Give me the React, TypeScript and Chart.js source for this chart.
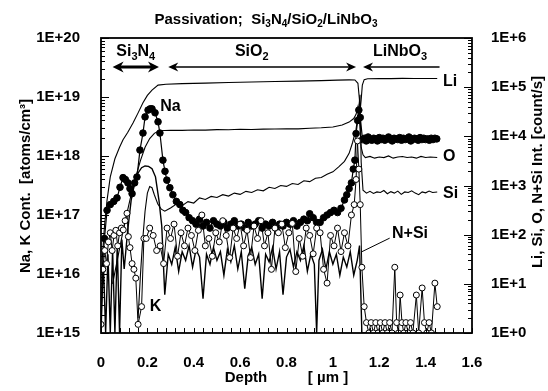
import React, { useEffect, useRef } from 'react';
import { Chart, registerables } from 'chart.js';
Chart.register(...registerables);

// ---------- DATA ----------
// Na concentration (atoms/cm3), left axis, filled circles
const naProfile: [number, number][] = [
  [0.005,1.2e16],[0.015,4e16],[0.026,1.2e17],[0.04,1.5e17],[0.055,1.7e17],[0.069,1.95e17],[0.082,2.95e17],[0.095,4.3e17],
  [0.105,4e17],[0.116,3.5e17],[0.125,2.8e17],[0.134,2.3e17],[0.145,3.5e17],[0.155,4.4e17],[0.168,1.26e18],[0.181,2.45e18],
  [0.19,4.6e18],[0.203,6e18],[0.212,6.3e18],[0.22,6.3e18],[0.233,5.4e18],[0.246,3.8e18],[0.254,2.45e18],[0.267,8.5e17],
  [0.276,5.5e17],[0.284,3.9e17],[0.297,2.9e17],[0.31,2.2e17],[0.325,1.7e17],[0.34,1.5e17],[0.353,1.2e17],[0.365,1.1e17],
  [0.38,9e16],[0.395,8e16],[0.41,7e16],[0.425,8.5e16],[0.44,6.5e16],[0.455,7.5e16],[0.47,6e16],[0.485,8e16],[0.5,7e16],
  [0.515,6.5e16],[0.53,7.5e16],[0.545,6e16],[0.56,7e16],[0.575,8e16],[0.59,6.5e16],[0.605,7e16],[0.62,6e16],[0.635,7.5e16],
  [0.65,6.5e16],[0.665,7e16],[0.68,8e16],[0.695,6e16],[0.71,7e16],[0.725,6.5e16],[0.74,7.5e16],[0.755,6e16],[0.77,7e16],
  [0.785,6.5e16],[0.8,7.5e16],[0.815,7e16],[0.83,8e16],[0.845,6.5e16],[0.86,7.5e16],[0.875,8.5e16],[0.89,8e16],[0.9,1.05e17],
  [0.915,9e16],[0.93,7.5e16],[0.945,7.5e16],[0.96,9e16],[0.975,1e17],[0.99,1.1e17],[1.005,1.2e17],[1.02,1.1e17],[1.035,1.3e17],
  [1.05,1.8e17],[1.06,2.2e17],[1.07,2.8e17],[1.08,3.5e17],[1.088,6e17],[1.095,8.5e17],[1.1,2.4e18],[1.107,4e18],[1.112,6e18],
  [1.118,4.5e18],[1.128,1.9e18],[1.136,2.0e18],[1.144,1.8e18],[1.152,2.1e18],[1.16,1.9e18],[1.168,1.85e18],[1.176,2.0e18],
  [1.184,1.95e18],[1.192,1.8e18],[1.2,2.05e18],[1.208,1.9e18],[1.216,2.0e18],[1.224,1.85e18],[1.232,1.95e18],[1.24,2.1e18],
  [1.248,1.9e18],[1.256,1.8e18],[1.264,2.0e18],[1.272,1.95e18],[1.28,1.9e18],[1.288,2.05e18],[1.296,1.85e18],[1.304,2.0e18],
  [1.312,1.9e18],[1.32,1.95e18],[1.328,2.1e18],[1.336,1.8e18],[1.344,1.9e18],[1.352,2.0e18],[1.36,1.95e18],[1.368,1.85e18],
  [1.376,2.05e18],[1.384,1.9e18],[1.392,2.0e18],[1.4,1.9e18],[1.408,1.95e18],[1.416,1.85e18],[1.424,2.0e18],[1.432,1.9e18],
  [1.44,2.0e18],[1.448,1.95e18]
];

// K concentration (atoms/cm3), left axis, open circles
const kProfile: [number, number][] = [
  [0.0,1.4e15],[0.008,1.2e16],[0.016,2.5e16],[0.024,1.5e16],[0.032,3.5e16],[0.04,5e16],[0.048,2.5e16],[0.056,4.5e16],
  [0.064,5.5e16],[0.072,3e16],[0.08,5e16],[0.088,6e16],[0.096,5.6e16],[0.104,8e16],[0.112,1.07e17],[0.118,4.3e16],
  [0.125,2.8e16],[0.134,1.5e16],[0.142,1.2e16],[0.15,8.5e15],[0.16,1.4e15],[0.175,2.8e15],[0.185,4e16],
  [0.195,4e16],[0.21,6e16],[0.225,4.5e16],[0.24,2.5e16],[0.255,3e16],[0.27,1.5e16],[0.285,6e16],[0.3,4e16],[0.315,7e16],
  [0.33,2e16],[0.345,5e16],[0.36,3e16],[0.375,6e16],[0.39,4.5e16],[0.405,2.5e16],[0.42,5.5e16],[0.435,1e17],[0.45,3e16],
  [0.465,4e16],[0.48,2e16],[0.495,5e16],[0.51,3.5e16],[0.525,8e16],[0.54,4.5e16],[0.555,1.9e16],[0.57,6e16],[0.585,4e16],
  [0.6,7e16],[0.615,3e16],[0.63,5.5e16],[0.645,1.9e16],[0.66,6.5e16],[0.675,4e16],[0.69,8e16],[0.705,3e16],[0.72,5e16],
  [0.735,1.2e16],[0.75,6e16],[0.765,5e16],[0.78,7e16],[0.795,2.8e16],[0.81,5e16],[0.825,7.2e16],[0.84,1.1e16],[0.855,4e16],
  [0.87,2e16],[0.885,6e16],[0.9,4.5e16],[0.915,2.2e16],[0.93,6e16],[0.945,5e16],[0.96,1.2e16],[0.975,7e15],[0.99,4.5e16],
  [1.005,3e16],[1.02,6e16],[1.035,2.4e16],[1.05,5e16],[1.065,3e16],[1.08,1e17],[1.092,1.5e17],[1.1,4e17],[1.106,1.8e18],
  [1.112,6e17],[1.118,1.5e17],[1.125,1.3e16],[1.135,2.8e15],[1.145,1.5e15],[1.155,1.0e15],[1.165,1.5e15],[1.175,1.0e15],
  [1.185,1.5e15],[1.195,1.0e15],[1.205,1.5e15],[1.215,1.0e15],[1.225,1.5e15],[1.235,1.0e15],[1.245,1.5e15],[1.255,1.0e15],
  [1.267,1.3e16],[1.275,1.5e15],[1.283,1.0e15],[1.29,4.4e15],[1.298,1.5e15],[1.306,1.0e15],[1.315,1.5e15],[1.325,1.0e15],
  [1.335,1.5e15],[1.345,1.0e15],[1.36,4.4e15],[1.37,1.0e15],[1.385,5.8e15],[1.395,1.5e15],[1.405,1.0e15],[1.415,1.5e15],
  [1.425,1.0e15],[1.44,7e15],[1.45,2.8e15]
];

// Li intensity (count/s), right axis
const liProfile: [number, number][] = [
  [0.005,30],[0.015,150],[0.026,500],[0.04,1500],[0.06,3500],[0.08,6000],[0.095,8500],[0.115,12000],[0.138,18600],
  [0.16,30000],[0.181,48000],[0.2,68000],[0.22,87000],[0.246,110000],[0.28,115000],[0.35,118000],[0.45,121000],
  [0.55,124000],[0.65,127000],[0.75,130000],[0.85,133000],[0.95,136000],[1.02,139000],[1.07,141000],[1.095,140000],
  [1.108,120000],[1.114,60000],[1.118,35000],[1.122,55000],[1.127,110000],[1.135,142000],[1.15,148000],[1.2,150000],
  [1.25,149000],[1.3,151000],[1.35,150000],[1.4,150000],[1.45,150000]
];

// O intensity (count/s), right axis
const oProfile: [number, number][] = [
  [0.05,10],[0.07,30],[0.09,90],[0.11,250],[0.13,650],[0.15,1500],[0.17,3200],[0.19,6000],[0.21,9000],[0.23,11500],
  [0.25,13000],[0.3,13300],[0.35,13200],[0.4,13500],[0.45,13400],[0.5,13700],[0.55,13600],[0.6,13900],[0.65,13800],
  [0.7,14000],[0.75,14100],[0.8,14300],[0.85,14200],[0.9,14600],[0.95,14900],[1.0,15500],[1.04,17000],[1.07,19500],
  [1.09,23000],[1.1,28000],[1.108,40000],[1.115,20000],[1.122,6000],[1.13,4200],[1.14,3700],[1.16,3900],[1.18,3600],
  [1.2,3800],[1.22,3700],[1.24,4000],[1.26,3600],[1.28,3800],[1.3,3900],[1.32,3700],[1.34,3800],[1.36,3600],[1.38,3900],
  [1.4,3700],[1.42,3800],[1.45,3700]
];

// Si intensity (count/s), right axis
const siProfile: [number, number][] = [
  [0.16,2],[0.17,15],[0.18,80],[0.19,300],[0.2,700],[0.21,950],[0.22,900],[0.23,650],[0.245,420],[0.26,330],[0.275,300],
  [0.29,330],[0.3,350],[0.325,420],[0.35,390],[0.375,470],[0.4,440],[0.425,560],[0.45,520],[0.475,600],[0.5,570],
  [0.525,650],[0.55,610],[0.575,700],[0.6,660],[0.625,760],[0.65,720],[0.675,820],[0.7,780],[0.725,920],[0.75,870],
  [0.775,1000],[0.8,960],[0.825,1100],[0.85,1050],[0.875,1250],[0.9,1200],[0.925,1400],[0.95,1450],[0.975,1700],
  [1.0,1900],[1.025,2400],[1.05,3100],[1.07,4500],[1.085,7500],[1.1,14000],[1.11,30000],[1.117,70000],[1.122,3000],
  [1.13,800],[1.145,700],[1.16,760],[1.175,690],[1.19,740],[1.205,720],[1.22,790],[1.235,680],[1.25,750],[1.265,700],
  [1.28,770],[1.295,660],[1.31,740],[1.325,720],[1.34,780],[1.355,700],[1.37,650],[1.385,740],[1.4,710],[1.415,770],
  [1.43,720],[1.45,740]
];

// N+Si intensity (count/s), right axis
const nsiProfile: [number, number][] = [
  [0.0,1],[0.01,30],[0.02,1],[0.03,40],[0.04,1],[0.05,50],[0.06,1],[0.07,60],[0.08,1],[0.09,80],[0.1,20],[0.115,120],
  [0.13,500],[0.145,1100],[0.16,1800],[0.175,2300],[0.19,2500],[0.205,2450],[0.22,2200],[0.235,1500],[0.25,500],
  [0.262,150],[0.275,6],[0.29,40],[0.305,25],[0.32,55],[0.335,18],[0.35,45],[0.365,30],[0.38,60],[0.395,22],[0.41,50],
  [0.425,35],[0.44,5],[0.455,40],[0.47,25],[0.485,55],[0.5,30],[0.515,45],[0.53,15],[0.545,50],[0.56,28],[0.575,60],
  [0.59,20],[0.605,45],[0.62,8],[0.635,38],[0.65,55],[0.665,25],[0.68,40],[0.695,5],[0.71,40],[0.725,28],[0.74,55],
  [0.755,20],[0.77,45],[0.785,6],[0.8,35],[0.815,50],[0.83,22],[0.845,45],[0.86,30],[0.875,60],[0.89,18],[0.905,40],
  [0.92,25],[0.93,1],[0.94,30],[0.955,50],[0.97,20],[0.985,45],[1.0,25],[1.015,40],[1.03,15],[1.045,35],[1.06,22],
  [1.075,45],[1.09,15],[1.105,30],[1.115,60],[1.12,8],[1.125,1],[1.45,1]
];

// Axis ranges and tick spacing
const depthMin = 0;
const depthMax = 1.6;
const depthStep = 0.2;
const depthMinorStep = 0.04;
const concMin = 1e15;
const concMax = 1e20;
const countMin = 1;
const countMax = 1e6;

// Layer bars at the top (depth range of each layer)
const layerStart = [0.05, 0.29, 1.13];
const layerEnd = [0.25, 1.1, 1.46];
const layerLabelDepth = [0.15, 0.65, 1.29];

// Curve labels (text, depth, value, axis)
const curveLabelText = ['Li', 'O', 'Si', 'Na', 'K', 'N+Si'];
const curveLabelDepth = [1.475, 1.475, 1.475, 0.255, 0.21, 1.255];
const curveLabelValue = [1.3e5, 3800, 700, 7e18, 2.8e15, 107];
const curveLabelAxis = ['yR', 'yR', 'yR', 'yL', 'yL', 'yR'];
// leader line for N+Si: from (depth,value) to (depth,value)
const nsiLeader: [number, number][] = [[1.125, 45], [1.245, 85]];

// ---------- HELPERS ----------
const FONT = '"Liberation Sans", Arial, sans-serif';
const toXY = (p: [number, number][]) => p.map(([x, y]) => ({ x, y }));
const isDecade = (v: number) => Math.abs(Math.log10(v) - Math.round(Math.log10(v))) < 1e-6;
const expLabel = (v: number) => (isDecade(v) ? '1E+' + Math.round(Math.log10(v)) : '');

type Part = [string, boolean];
function drawRich(ctx: CanvasRenderingContext2D, parts: Part[], x: number, y: number, size: number, align: string) {
  const big = `bold ${size}px ${FONT}`;
  const small = `bold ${Math.round(size * 0.68)}px ${FONT}`;
  let total = 0;
  parts.forEach(([t, sub]) => { ctx.font = sub ? small : big; total += ctx.measureText(t).width; });
  let cx = align === 'center' ? x - total / 2 : x;
  ctx.textAlign = 'left';
  ctx.textBaseline = 'middle';
  parts.forEach(([t, sub]) => {
    ctx.font = sub ? small : big;
    ctx.fillText(t, cx, sub ? y + size * 0.3 : y);
    cx += ctx.measureText(t).width;
  });
}

function arrowHead(ctx: CanvasRenderingContext2D, x: number, y: number, dir: number, len: number, half: number) {
  ctx.beginPath();
  ctx.moveTo(x, y);
  ctx.lineTo(x - dir * len, y - half);
  ctx.lineTo(x - dir * len * 0.7, y);
  ctx.lineTo(x - dir * len, y + half);
  ctx.closePath();
  ctx.fill();
}

const decorPlugin = {
  id: 'decor',
  afterDatasetsDraw(chart: any) {
    const { ctx, chartArea: a, scales } = chart;
    const xs = scales.x, yL = scales.yL, yR = scales.yR;
    ctx.save();
    ctx.fillStyle = '#000';
    ctx.strokeStyle = '#000';

    // frame
    ctx.lineWidth = 1.8;
    ctx.strokeRect(a.left, a.top, a.right - a.left, a.bottom - a.top);

    // log ticks (inward)
    ctx.lineWidth = 1;
    const logTicks = (scale: any, lo: number, hi: number, xEdge: number, dir: number) => {
      for (let e = Math.round(Math.log10(lo)); e < Math.round(Math.log10(hi)) + 1; e++) {
        for (let m = 1; m <= 9; m++) {
          const v = m * Math.pow(10, e);
          if (v > hi * 1.0001) break;
          const py = Math.round(scale.getPixelForValue(v)) + 0.5;
          const len = m === 1 ? 8 : 4;
          ctx.beginPath();
          ctx.moveTo(xEdge, py);
          ctx.lineTo(xEdge + dir * len, py);
          ctx.stroke();
        }
      }
    };
    logTicks(yL, concMin, concMax, a.left, 1);
    logTicks(yR, countMin, countMax, a.right, -1);
    // depth ticks (inward, bottom)
    for (let i = 0; i * depthMinorStep <= depthMax + 1e-9; i++) {
      const v = i * depthMinorStep;
      const px = Math.round(xs.getPixelForValue(v)) + 0.5;
      ctx.beginPath();
      ctx.moveTo(px, a.bottom);
      ctx.lineTo(px, a.bottom - 5);
      ctx.stroke();
    }

    // title
    drawRich(ctx, [['Passivation;  Si', false], ['3', true], ['N', false], ['4', true], ['/SiO', false], ['2', true], ['/LiNbO', false], ['3', true]],
      266, 20, 15, 'center');

    // layer labels + arrows
    const layerParts: Part[][] = [
      [['Si', false], ['3', true], ['N', false], ['4', true]],
      [['SiO', false], ['2', true]],
      [['LiNbO', false], ['3', true]],
    ];
    const labelY = a.top + 14;
    const arrowY = a.top + 29;
    layerParts.forEach((parts, i) => {
      drawRich(ctx, parts, xs.getPixelForValue(layerLabelDepth[i]), labelY, 16, 'center');
    });
    // Si3N4 double arrow (thick)
    let x0 = xs.getPixelForValue(layerStart[0]), x1 = xs.getPixelForValue(layerEnd[0]);
    ctx.lineWidth = 3;
    ctx.beginPath(); ctx.moveTo(x0 + 6, arrowY); ctx.lineTo(x1 - 6, arrowY); ctx.stroke();
    arrowHead(ctx, x0, arrowY, -1, 11, 5.5);
    arrowHead(ctx, x1, arrowY, 1, 11, 5.5);
    // SiO2 double arrow
    x0 = xs.getPixelForValue(layerStart[1]); x1 = xs.getPixelForValue(layerEnd[1]);
    ctx.lineWidth = 1.6;
    ctx.beginPath(); ctx.moveTo(x0 + 5, arrowY); ctx.lineTo(x1 - 5, arrowY); ctx.stroke();
    arrowHead(ctx, x0, arrowY, -1, 10, 4.5);
    arrowHead(ctx, x1, arrowY, 1, 10, 4.5);
    // LiNbO3 arrow (points left)
    x0 = xs.getPixelForValue(layerStart[2]); x1 = xs.getPixelForValue(layerEnd[2]);
    ctx.beginPath(); ctx.moveTo(x0 + 5, arrowY); ctx.lineTo(x1, arrowY); ctx.stroke();
    arrowHead(ctx, x0, arrowY, -1, 10, 4.5);

    // curve labels
    ctx.font = `bold 16px ${FONT}`;
    ctx.textAlign = 'left';
    ctx.textBaseline = 'middle';
    curveLabelText.forEach((t, i) => {
      const sc = curveLabelAxis[i] === 'yL' ? yL : yR;
      ctx.fillText(t, xs.getPixelForValue(curveLabelDepth[i]), sc.getPixelForValue(curveLabelValue[i]));
    });
    ctx.lineWidth = 1;
    ctx.beginPath();
    ctx.moveTo(xs.getPixelForValue(nsiLeader[0][0]), yR.getPixelForValue(nsiLeader[0][1]));
    ctx.lineTo(xs.getPixelForValue(nsiLeader[1][0]), yR.getPixelForValue(nsiLeader[1][1]));
    ctx.stroke();

    // axis titles
    ctx.font = `bold 15px ${FONT}`;
    ctx.textAlign = 'center';
    ctx.textBaseline = 'middle';
    ctx.save();
    ctx.translate(26, 186);
    ctx.rotate(-Math.PI / 2);
    ctx.fillText('Na, K Cont.  [atoms/cm³]', 0, 0);
    ctx.restore();
    ctx.save();
    ctx.translate(538, 172);
    ctx.rotate(-Math.PI / 2);
    ctx.fillText('Li, Si, O, N+Si Int. [count/s]', 0, 0);
    ctx.restore();
    ctx.fillText('Depth', 246, 378);
    ctx.fillText('[ µm ]', 328, 378);

    ctx.restore();
  },
};

export default function App() {
  const ref = useRef<HTMLCanvasElement | null>(null);
  useEffect(() => {
    if (!ref.current) return;
    const lineDs = (label: string, prof: [number, number][]) => ({
      label, data: toXY(prof), yAxisID: 'yR', borderColor: '#000', borderWidth: 1.1,
      pointRadius: 0, fill: false, tension: 0, order: 3,
    });
    const tickFont = { family: FONT, size: 15, weight: 'bold' as const };
    const chart = new Chart(ref.current, {
      type: 'line',
      data: {
        datasets: [
          {
            label: 'K', data: toXY(kProfile), yAxisID: 'yL', borderColor: '#000', borderWidth: 1,
            pointRadius: 3, pointBackgroundColor: '#fff', pointBorderColor: '#000', pointBorderWidth: 1,
            fill: false, tension: 0, order: 1,
          },
          {
            label: 'Na', data: toXY(naProfile), yAxisID: 'yL', borderColor: '#000', borderWidth: 1.2,
            pointRadius: 3.3, pointBackgroundColor: '#000', pointBorderColor: '#000', pointBorderWidth: 1,
            fill: false, tension: 0, order: 2,
          },
          lineDs('Li', liProfile),
          lineDs('O', oProfile),
          lineDs('Si', siProfile),
          { ...lineDs('N+Si', nsiProfile), borderWidth: 1.4 },
        ] as any,
      },
      options: {
        animation: false,
        responsive: false,
        devicePixelRatio: 1,
        layout: { padding: { top: 38, left: 0, right: 0, bottom: 0 } },
        plugins: { legend: { display: false }, tooltip: { enabled: false }, title: { display: false } },
        scales: {
          x: {
            type: 'linear', min: depthMin, max: depthMax,
            grid: { display: false }, border: { display: false },
            ticks: {
              stepSize: depthStep, color: '#000', font: tickFont, padding: 13, maxRotation: 0,
              callback: (v: any) => String(Math.round(Number(v) * 10) / 10),
            },
            afterFit: (s: any) => { s.height = 58; },
          },
          yL: {
            type: 'logarithmic', position: 'left', min: concMin, max: concMax,
            grid: { display: false }, border: { display: false },
            ticks: { color: '#000', font: tickFont, padding: 13, autoSkip: false, callback: (v: any) => expLabel(Number(v)) },
            afterFit: (s: any) => { s.width = 101; },
          },
          yR: {
            type: 'logarithmic', position: 'right', min: countMin, max: countMax,
            grid: { display: false }, border: { display: false },
            ticks: { color: '#000', font: tickFont, padding: 11, autoSkip: false, callback: (v: any) => expLabel(Number(v)) },
            afterFit: (s: any) => { s.width = 76; },
          },
        },
      } as any,
      plugins: [decorPlugin],
    });
    return () => chart.destroy();
  }, []);
  return (
    <div style={{ position: 'absolute', left: 0, top: 0, width: 548, height: 391, background: '#fff' }}>
      <canvas ref={ref} width={548} height={391} style={{ display: 'block' }} />
    </div>
  );
}
